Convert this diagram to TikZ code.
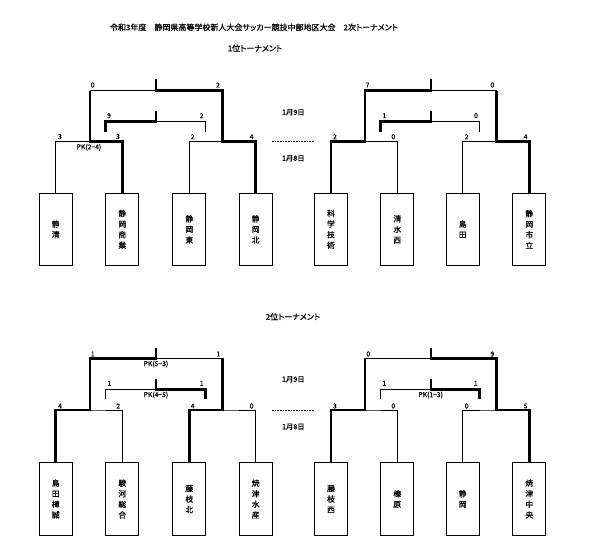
\documentclass[tikz,border=0pt]{standalone}
\usepackage{fontspec}
\newfontfamily\jp[RawFeature=+palt, FakeBold=0.8]{Noto Sans CJK JP}
\tikzset{
  team/.style={draw, line width=0.9pt, minimum width=33pt, minimum height=72.7pt, inner sep=0pt, align=center, font=\jp\fontsize{7.8}{10.6}\selectfont},
  thinln/.style={line width=0.7pt},
  thickln/.style={line width=2.6pt},
  score/.style={font=\jp\fontsize{6.8}{7}\selectfont, inner sep=0pt},
  pk/.style={font=\jp\fontsize{6.8}{7}\selectfont, inner sep=0pt},
  datelbl/.style={font=\jp\fontsize{7.2}{8}\selectfont, inner sep=0pt},
  heading/.style={font=\jp\fontsize{8}{9}\selectfont, inner sep=0pt},
  dotln/.style={line width=0.5pt, dash pattern=on 0.8pt off 0.8pt},
}
\begin{document}
\begin{tikzpicture}[x=1pt,y=-1pt]
\useasboundingbox (0,0) rectangle (603,560);
% headings
\node[heading] (title) at (254,27.3) {令和3年度　静岡県高等学校新人大会サッカー競技中部地区大会　2次トーナメント};
\node[heading] (h1) at (255,48.3) {1位トーナメント};
\node[heading] (h2) at (293,316.7) {2位トーナメント};
% ---------- top teams
\node[team] (t1) at (55.7,229.35) {静\\清};
\node[team] (t2) at (122.3,229.35) {静\\岡\\商\\業};
\node[team] (t3) at (189.3,229.35) {静\\岡\\東};
\node[team] (t4) at (255.7,229.35) {静\\岡\\北};
\node[team] (t5) at (331,229.35) {科\\学\\技\\術};
\node[team] (t6) at (397.3,229.35) {清\\水\\西};
\node[team] (t7) at (462.7,229.35) {島\\田};
\node[team] (t8) at (529.3,229.35) {静\\岡\\市\\立};
% ---------- bottom teams
\node[team] (u1) at (55.7,499) {島\\田\\樟\\誠};
\node[team] (u2) at (122.3,499) {駿\\河\\総\\合};
\node[team] (u3) at (189.3,499) {藤\\枝\\北};
\node[team] (u4) at (255.7,499) {焼\\津\\水\\産};
\node[team] (u5) at (331,499) {藤\\枝\\西};
\node[team] (u6) at (397.3,499) {榛\\原};
\node[team] (u7) at (462.7,499) {静\\岡};
\node[team] (u8) at (529.3,499) {焼\\津\\中\\央};
% ---------- coordinates top-left
\coordinate (aL) at (90,141.7); \coordinate (aR) at (222.7,141.7);
\coordinate (aLF) at (90,90.5); \coordinate (aRF) at (222.7,90.5);
\coordinate (aC) at (156,90.5); \coordinate (aCS) at (156,79);
\coordinate (aT) at (156,121.5); \coordinate (aTS) at (156,111);
\coordinate (aTL) at (105.5,121.5); \coordinate (aTLe) at (105.5,131.5);
\coordinate (aTR) at (205.7,121.5); \coordinate (aTRe) at (205.7,131.5);
% top-right
\coordinate (bL) at (365,141.7); \coordinate (bR) at (496.7,141.7);
\coordinate (bLF) at (365,90.5); \coordinate (bRF) at (496.7,90.5);
\coordinate (bC) at (431,90.5); \coordinate (bCS) at (431,79);
\coordinate (bT) at (431,121.5); \coordinate (bTS) at (431,111);
\coordinate (bTL) at (380.5,121.5); \coordinate (bTLe) at (380.5,131.5);
\coordinate (bTR) at (479.7,121.5); \coordinate (bTRe) at (479.7,131.5);
% bottom-left
\coordinate (cL) at (90,410); \coordinate (cR) at (222.7,410);
\coordinate (cLF) at (90,358.3); \coordinate (cRF) at (222.7,358.3);
\coordinate (cC) at (156,358.3); \coordinate (cCS) at (156,348.3);
\coordinate (cT) at (156,389.3); \coordinate (cTS) at (156,379.3);
\coordinate (cTL) at (105.5,389.3); \coordinate (cTLe) at (105.5,399.3);
\coordinate (cTR) at (205.7,389.3); \coordinate (cTRe) at (205.7,399.3);
% bottom-right
\coordinate (dL) at (365,410); \coordinate (dR) at (496.7,410);
\coordinate (dLF) at (365,358.3); \coordinate (dRF) at (496.7,358.3);
\coordinate (dC) at (431,358.3); \coordinate (dCS) at (431,348.3);
\coordinate (dT) at (431,389.3); \coordinate (dTS) at (431,379.3);
\coordinate (dTL) at (380.5,389.3); \coordinate (dTLe) at (380.5,399.3);
\coordinate (dTR) at (479.7,389.3); \coordinate (dTRe) at (479.7,399.3);
% ---------- thin base lines
\foreach \p/\q/\r/\s/\m in {t1/t2/t3/t4/a, t5/t6/t7/t8/b, u1/u2/u3/u4/c, u5/u6/u7/u8/d}{
  \draw[thinln] (\p.north) |- (\m L) -| (\q.north);
  \draw[thinln] (\r.north) |- (\m R) -| (\s.north);
  \draw[thinln] (\m L) -- (\m LF) -- (\m RF) -- (\m R);
  \draw[thinln] (\m C) -- (\m CS);
  \draw[thinln] (\m TLe) -- (\m TL) -- (\m TR) -- (\m TRe);
  \draw[thinln] (\m T) -- (\m TS);
}
% ---------- thick winner paths
\draw[thickln] (t2.north) |- (aL) -- (aLF);
\draw[thickln] (t4.north) |- (aR) -- (aRF) -- (aC) -- (aCS);
\draw[thickln] (aTLe) -- (aTL) -- (aT) -- (aTS);
\draw[thickln] (t5.north) |- (bL) -- (bLF) -- (bC) -- (bCS);
\draw[thickln] (t8.north) |- (bR) -- (bRF);
\draw[thickln] (bTLe) -- (bTL) -- (bT) -- (bTS);
\draw[thickln] (u1.north) |- (cL) -- (cLF) -- (cC) -- (cCS);
\draw[thickln] (u3.north) |- (cR) -- (cRF);
\draw[thickln] (cTRe) -- (cTR) -- (cT) -- (cTS);
\draw[thickln] (u5.north) |- (dL) -- (dLF);
\draw[thickln] (u8.north) |- (dR) -- (dRF) -- (dC) -- (dCS);
\draw[thickln] (dTRe) -- (dTR) -- (dT) -- (dTS);
% ---------- dotted day separators
\coordinate (s1a) at (271.7,141.7); \coordinate (s1b) at (314.3,141.7);
\coordinate (s2a) at (271.7,410); \coordinate (s2b) at (314.3,410);
\draw[dotln] (s1a) -- (s1b);
\draw[dotln] (s2a) -- (s2b);
\node[datelbl] (d9a) at (293.3,112.3) {1月9日};
\node[datelbl] (d8a) at (293.3,158.3) {1月8日};
\node[datelbl] (d9b) at (293.3,379.3) {1月9日};
\node[datelbl] (d8b) at (293.3,426.7) {1月8日};
% ---------- scores top-left
\node[score] (sa1) at (92.7,85) {0};
\node[score] (sa2) at (218,85) {2};
\node[score] (sa3) at (109,115.7) {9};
\node[score] (sa4) at (201.7,115.7) {2};
\node[score] (sa5) at (60,136.7) {3};
\node[score] (sa6) at (118,136.7) {3};
\node[score] (sa7) at (192.7,136.7) {2};
\node[score] (sa8) at (251.7,136.7) {4};
\node[pk] (pka) at (89,147.3) {PK(2−4)};
% top-right
\node[score] (sb1) at (367.3,85) {7};
\node[score] (sb2) at (492.3,85) {0};
\node[score] (sb3) at (384.3,115.7) {1};
\node[score] (sb4) at (476,115.7) {0};
\node[score] (sb5) at (335,136.7) {2};
\node[score] (sb6) at (393.3,136.7) {0};
\node[score] (sb7) at (466.7,136.7) {2};
\node[score] (sb8) at (525.7,136.7) {4};
% bottom-left
\node[score] (sc1) at (92.7,354) {1};
\node[score] (sc2) at (218.3,354) {1};
\node[pk] (pkc1) at (156,364) {PK(5−3)};
\node[score] (sc3) at (109.3,383.3) {1};
\node[score] (sc4) at (201.7,383.3) {1};
\node[pk] (pkc2) at (156,395) {PK(4−5)};
\node[score] (sc5) at (60,406) {4};
\node[score] (sc6) at (118.3,406) {2};
\node[score] (sc7) at (192.7,406) {4};
\node[score] (sc8) at (251.7,406) {0};
% bottom-right
\node[score] (sd1) at (368.3,354) {0};
\node[score] (sd2) at (492.3,354) {9};
\node[score] (sd3) at (384.3,383.3) {1};
\node[score] (sd4) at (475.7,383.3) {1};
\node[pk] (pkd) at (430.7,395) {PK(1−3)};
\node[score] (sd5) at (335,406) {3};
\node[score] (sd6) at (393.3,406) {0};
\node[score] (sd7) at (466.7,406) {0};
\node[score] (sd8) at (525.7,406) {5};
\end{tikzpicture}
\end{document}
